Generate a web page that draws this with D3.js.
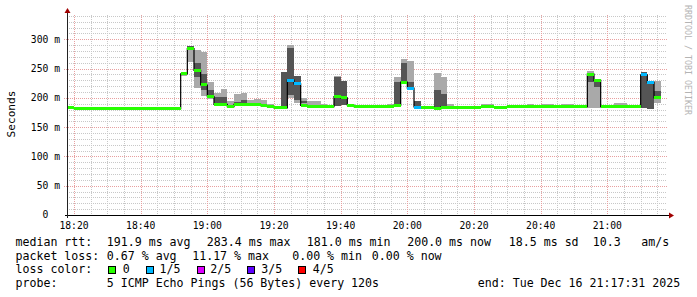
<!DOCTYPE html>
<html><head><meta charset="utf-8">
<script src="https://cdn.jsdelivr.net/npm/d3@7"></script>
<style>html,body{margin:0;padding:0;background:#fff;}svg{display:block;}</style>
</head><body>
<script>
// ---- data (milliseconds), one entry per 120 s step starting 18:18 ----
const firstStep = new Date(2025, 11, 16, 18, 18, 0);
const stepMinutes = 2;
const median = [
  183,181.5,181.5,181.5,181.5,181.5,181.5,181.5,181.5,181.5,
  181.5,181.5,181.5,181.5,181.5,181.5,181.5,241,284,247,
  222,202,189,189,185,189,189.5,189,189,186.7,
  185,183,183,230.5,224,187.3,186,186,185,185,
  202,200,187.5,185,185,185,185,185,185.7,187.3,
  227,216.8,184.4,184.4,184.4,182.7,184.4,184.4,184.4,184.4,
  184.4,184.4,185,185,184.4,184.4,185.5,185.5,185,185,
  185,185,185,185,185,185,185,185,240.7,230,
  185,185,185,185,185,185,239.5,226.5,199.8
];
const lostPings = [
  0,0,0,0,0,0,0,0,0,0, 0,0,0,0,0,0,0,0,0,0,
  0,0,0,0,0,0,0,0,0,0, 0,0,0,1,1,0,0,0,0,0,
  0,0,0,0,0,0,0,0,0,0, 0,1,1,0,0,0,0,0,0,0,
  0,0,0,0,0,0,0,0,0,0, 0,0,0,0,0,0,0,0,0,0,
  0,0,0,0,0,0,1,1,0
];
const outerLo = [
  182,181,181,181,181,181,181,181,181,181,
  181,181,181,181,181,181,181,237,262,216,
  203,198,186.5,187,184,186,187,187,187,185,
  183.5,182.5,182,199,192,185,185,185,184,184,
  186,187,186,184.5,184.5,184.5,184.5,184.5,185,187,
  226,216,184,184,184,183,186,184,184,184,
  184,184,184.5,184.5,184,184,185,185,184.5,184.5,
  184.5,184.5,184.5,184.5,184.5,184.5,184.5,184.5,183,183,
  184.5,184.5,186,186,184.5,184.5,183,181.5,191.7
];
const outerHi = [
  184,182.5,184,184,182.5,182.5,182.5,184,184,182.5,
  182.5,182.5,182.5,182.5,182.5,182.5,182.5,244,289,282,
  278,227,209,215,195,206,209,196,198,196.6,
  189.5,185,243.6,290,238,199,195,195,189.5,188,
  237,229,190,186,186.5,186.5,186.5,186.5,189.5,236,
  266,263,194.6,185.5,185.5,243,236,189.5,185.5,185.5,
  185.5,185.5,189.5,189.5,185.5,185.5,188.5,188.5,186,189.5,
  186,189.5,189.5,186,189.5,189.5,186,186,245.9,231.7,
  186,186,190.7,190.7,186,186,244.7,228.8,228.8
];
const innerLo = [
  182.5,181,181,181,181,181,181,181,181,181,
  181,181,181,181,181,181,181,239,281,235,
  213,205,187,188,184.5,187,187,187,188,185.5,
  184,182.5,182,205,196,190.7,185.5,185.5,184.5,184.5,
  186.6,187.8,186.5,184.5,184.5,184.5,184.5,184.5,185.5,187.8,
  226.5,219,186,184,184,183,186,184.5,184,184,
  184,184,184.5,184.5,184,184,185,185,184.5,184.5,
  184.5,184.5,184.5,184.5,184.5,184.5,184.5,184.5,227.6,219,
  184.5,184.5,186,186,184.5,184.5,183,181.5,199
];
const innerHi = [
  183.5,182,182.5,182.5,182,182,182,182.5,182.5,182,
  182,182,182,182,182,182,182,243,288,260,
  240,213,201,201,188,193,196,191,192,189,
  187,184,243.6,285.6,237,194.6,188,188,186.5,186,
  235,228.8,188.5,185.5,185.5,185.5,185.5,185.5,187,226.5,
  259,226.5,194.6,185,185,213.4,206.6,186,185,185,
  185,185,186.5,186.5,185,185,186.5,186.5,185.5,186.5,
  185.5,186.5,186.5,185.5,186.5,186.5,185.5,185.5,243,231.7,
  185.5,185.5,188,188,185.5,185.5,244.7,228.8,211.7
];
const lossLabels = ["0", "1/5", "2/5", "3/5", "4/5"];
const lossColors = ["#26ff00", "#00b8ff", "#dd00ff", "#5e00ff", "#ff0000"];
const yTickValues = [0, 50, 100, 150, 200, 250, 300];
const legendRtt = ["median rtt:", "191.9 ms avg", "283.4 ms max", "181.0 ms min", "200.0 ms now", "18.5 ms sd", "10.3", "am/s"];
const legendLoss = ["packet loss:", "0.67 % avg", "11.17 % max", "0.00 % min", "0.00 % now"];
const legendProbe = ["probe:", "5 ICMP Echo Pings (56 Bytes) every 120s", "end: Tue Dec 16 21:17:31 2025"];

// ---- layout ----
const W = 697, H = 297;
const L = 67, R = 667, T = 15, B = 215;
const svg = d3.select("body").append("svg").attr("width", W).attr("height", H);
svg.append("rect").attr("width", W).attr("height", H).attr("fill", "#fff");

const x = d3.scaleTime()
  .domain([new Date(2025, 11, 16, 18, 17, 54), new Date(2025, 11, 16, 21, 17, 54)])
  .range([L, R]);
const y = d3.scaleLinear().domain([0, 341.5]).range([B, T]);

const steps = median.map((m, i) => {
  const t0 = d3.timeMinute.offset(firstStep, i * stepMinutes);
  const t1 = d3.timeMinute.offset(firstStep, (i + 1) * stepMinutes);
  return {t0, t1, m, loss: lostPings[i], oLo: outerLo[i], oHi: outerHi[i], iLo: innerLo[i], iHi: innerHi[i]};
});

// ---- grid ----
const grid = svg.append("g").attr("shape-rendering", "crispEdges");
const minorX = d3.timeMinute.every(5).range(x.domain()[0], x.domain()[1]);
const majorX = d3.timeMinute.every(20).range(x.domain()[0], x.domain()[1]);
const isMajorX = t => t.getMinutes() % 20 === 0;
grid.selectAll(".gxm").data(minorX.filter(t => !isMajorX(t))).join("line")
  .attr("x1", d => Math.round(x(d)) + 0.5).attr("x2", d => Math.round(x(d)) + 0.5)
  .attr("y1", T).attr("y2", B)
  .attr("stroke", "#c8c8c8").attr("stroke-dasharray", "1,1");
const minorY = d3.range(10, 341, 10).filter(v => v % 50 !== 0);
grid.selectAll(".gym").data(minorY).join("line")
  .attr("y1", d => Math.round(y(d)) + 0.5).attr("y2", d => Math.round(y(d)) + 0.5)
  .attr("x1", L).attr("x2", R)
  .attr("stroke", "#c8c8c8").attr("stroke-dasharray", "1,1");
grid.selectAll(".gxM").data(majorX).join("line")
  .attr("x1", d => Math.round(x(d)) + 0.5).attr("x2", d => Math.round(x(d)) + 0.5)
  .attr("y1", T).attr("y2", B)
  .attr("stroke", "#e8a0a0").attr("stroke-dasharray", "1,1");
grid.selectAll(".gyM").data(yTickValues.filter(v => v > 0)).join("line")
  .attr("y1", d => Math.round(y(d)) + 0.5).attr("y2", d => Math.round(y(d)) + 0.5)
  .attr("x1", L - 3).attr("x2", R)
  .attr("stroke", "#e8a0a0").attr("stroke-dasharray", "1,1");

// ---- smoke ----
const smoke = svg.append("g").attr("shape-rendering", "crispEdges");
smoke.selectAll(".outer").data(steps).join("rect")
  .attr("x", d => x(d.t0)).attr("width", d => x(d.t1) - x(d.t0))
  .attr("y", d => y(d.oHi)).attr("height", d => Math.max(0, y(d.oLo) - y(d.oHi)))
  .attr("fill", "#a9a9a9");
smoke.selectAll(".inner").data(steps).join("rect")
  .attr("x", d => x(d.t0)).attr("width", d => x(d.t1) - x(d.t0))
  .attr("y", d => y(d.iHi)).attr("height", d => Math.max(0, y(d.iLo) - y(d.iHi)))
  .attr("fill", "#555555");

// ---- median black step line ----
const linePts = steps.map(d => [x(d.t0), y(d.m)]);
linePts.push([x(steps[steps.length - 1].t1), y(steps[steps.length - 1].m)]);
svg.append("path").attr("d", d3.line().curve(d3.curveStepAfter)(linePts))
  .attr("fill", "none").attr("stroke", "#000").attr("stroke-width", 1.2);

// ---- coloured median segments by loss (on top) ----
const med = svg.append("g").attr("shape-rendering", "crispEdges");
med.selectAll(".med").data(steps).join("rect")
  .attr("x", d => x(d.t0)).attr("width", d => x(d.t1) - x(d.t0))
  .attr("y", d => y(d.m) - 1.5).attr("height", 3)
  .attr("fill", d => lossColors[d.loss]);

// ---- axes ----
const ax = svg.append("g").attr("shape-rendering", "crispEdges");
ax.append("line").attr("x1", 65).attr("x2", 670).attr("y1", B + 0.5).attr("y2", B + 0.5).attr("stroke", "#000");
ax.append("line").attr("x1", L + 0.5).attr("x2", L + 0.5).attr("y1", 218).attr("y2", 12).attr("stroke", "#222");
svg.append("path").attr("d", `M669,212.5 L674,215.5 L669,218.5 Z`).attr("fill", "#a00000");
svg.append("path").attr("d", `M64.5,13 L67.5,8 L70.5,13 Z`).attr("fill", "#a00000");

const mono = "'DejaVu Sans Mono', monospace";
const fmt = d3.timeFormat("%H:%M");
svg.selectAll(".xl").data(majorX).join("text")
  .attr("x", d => x(d)).attr("y", 228.5).attr("text-anchor", "middle")
  .attr("font-family", mono).attr("font-size", 9.7).attr("fill", "#000")
  .text(d => fmt(d));
svg.selectAll(".yl").data(yTickValues).join("text")
  .attr("x", d => d === 0 ? 48.3 : 60).attr("y", d => y(d) + 3.4).attr("text-anchor", "end")
  .attr("font-family", mono).attr("font-size", 9.7).attr("fill", "#000")
  .text(d => d === 0 ? "0" : d + " m");

svg.append("text").attr("transform", "translate(15,114) rotate(-90)")
  .attr("text-anchor", "middle").attr("font-family", mono).attr("font-size", 11.1).attr("fill", "#000")
  .text("Seconds");
svg.append("text").attr("transform", "translate(684.5,5) rotate(90)")
  .attr("text-anchor", "start").attr("font-family", mono).attr("font-size", 8.3).attr("fill", "#b4b4b4")
  .attr("textLength", 110).attr("lengthAdjust", "spacing")
  .text("RRDTOOL / TOBI OETIKER");

// ---- legend ----
const lx1 = [16, 107.3, 207.3, 307.3, 407.7, 509.3, 593.3, 641.7];
const lx2 = [16, 107.3, 192.7, 292.7, 372.3];
const lx4 = [16, 107.3, 478.3];
const lg = svg.append("g").attr("font-family", mono).attr("font-size", 11.6).attr("fill", "#000")
  .attr("style", "white-space:pre");
lg.selectAll(".l1").data(legendRtt).join("text").attr("x", (d, i) => lx1[i] - 0.5).attr("y", 246).text(d => d);
lg.selectAll(".l2").data(legendLoss).join("text").attr("x", (d, i) => lx2[i] - 0.5).attr("y", 259.7).text(d => d);
lg.append("text").attr("x", 15.5).attr("y", 273.3).text("loss color:");
const boxX = [108.3, 145.7, 196.7, 247.3, 298.3];
const labX = [123.3, 160, 210.7, 261.7, 313.3];
lg.selectAll(".lb").data(lossColors).join("rect")
  .attr("x", (d, i) => Math.round(boxX[i]) + 0.5).attr("y", 266.5).attr("width", 7).attr("height", 7)
  .attr("fill", d => d).attr("stroke", "#000").attr("stroke-width", 1).attr("shape-rendering", "crispEdges");
lg.selectAll(".lt").data(lossLabels).join("text").attr("x", (d, i) => labX[i] - 0.5).attr("y", 273.3).text(d => d);
lg.selectAll(".l4").data(legendProbe).join("text").attr("x", (d, i) => lx4[i] - 0.5).attr("y", 287).text(d => d);
</script>
</body></html>
